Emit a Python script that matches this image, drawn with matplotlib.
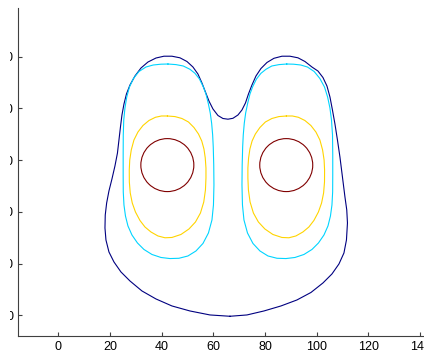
import matplotlib
matplotlib.use("Agg")
import matplotlib.pyplot as plt
from matplotlib.patches import Circle
from matplotlib.transforms import Bbox, IdentityTransform, TransformedBbox

# contour lines (data units)
outer_x = [66.42, 58.68, 50.95, 43.98, 37.80, 32.38, 27.74, 24.26, 21.55, 19.61, 18.45, 18.07, 18.18,
           18.72, 19.61, 20.77, 21.93, 22.90, 23.48, 24.06, 24.64, 25.42, 26.38, 27.74, 29.67, 31.99,
           34.70, 37.80, 40.89, 43.98, 47.08, 49.79, 52.11, 54.04, 55.59, 56.94, 58.30, 59.85, 61.78,
           63.71, 65.65, 67.58, 69.52, 71.06, 72.42, 73.58, 74.93, 76.48, 78.41, 80.74, 83.44, 86.54,
           89.63, 92.73, 95.44, 98.14, 100.46, 102.40, 103.95, 105.11, 106.07, 107.04, 108.01, 108.97,
           109.94, 110.91, 111.61, 111.88, 111.49, 110.52, 108.59, 105.88, 102.40, 97.76, 92.34,
           86.15, 79.57, 73.00, 66.42]
outer_y = [-0.39, 0.12, 1.66, 3.60, 6.31, 9.40, 13.27, 16.75, 20.62, 24.49, 29.13, 33.77, 38.80,
           43.44, 48.09, 52.73, 57.76, 62.77, 67.80, 72.83, 77.47, 81.73, 85.60, 89.08, 92.56, 95.65,
           97.98, 99.53, 100.23, 100.23, 99.61, 98.18, 96.05, 93.34, 89.86, 86.38, 82.89, 79.81, 77.29,
           76.13, 75.86, 76.21, 77.49, 79.42, 82.13, 85.60, 89.08, 92.56, 95.47, 97.80, 99.42, 100.23,
           100.23, 99.61, 98.18, 96.05, 94.50, 91.99, 88.70, 84.45, 79.42, 74.01, 67.80, 61.23,
           53.50, 45.76, 40.74, 35.71, 29.13, 24.10, 19.85, 15.98, 12.50, 8.82, 5.92,
           3.60, 1.66, 0.12, -0.39]

cyan_left_x = [42.44, 45.53, 48.36, 50.95, 52.88, 54.62, 56.09, 57.14, 58.03, 58.80, 59.34, 59.73,
               59.96, 60.15, 60.23, 60.04, 59.46, 58.10, 55.98, 53.27, 50.17, 46.69, 43.21, 39.73,
               36.25, 33.15, 30.64, 28.51, 26.96, 26.00, 25.42, 25.15, 25.11, 25.11, 25.15, 25.34,
               25.80, 26.50, 27.54, 29.09, 31.22, 33.93, 36.75, 39.73, 42.44]
cyan_left_y = [97.21, 96.98, 96.44, 95.17, 93.62, 91.41, 88.43, 85.60, 82.01, 78.26, 74.27, 69.75,
               65.11, 58.14, 50.41, 42.67, 36.87, 31.84, 27.78, 24.87, 22.94, 22.05, 21.94, 22.36,
               23.52, 25.46, 27.97, 31.06, 34.55, 38.41, 42.67, 47.70, 54.27, 62.01, 69.75, 75.55,
               80.19, 84.45, 88.31, 91.61, 94.31, 96.05, 96.83, 97.14, 97.21]
cyan_right_x = [88.40, 85.40, 82.60, 80.35, 78.42, 76.68, 75.21, 74.16, 73.27, 72.50, 71.96, 71.57,
                71.34, 71.15, 71.07, 71.26, 71.84, 73.20, 75.32, 78.03, 81.13, 84.61, 88.09, 91.57,
                95.05, 98.15, 100.66, 102.79, 104.34, 105.30, 105.88, 106.15, 106.19, 106.19, 106.10,
                105.70, 105.10, 104.20, 103.00, 101.20, 99.00, 96.40, 93.80, 91.00, 88.40]
cyan_right_y = cyan_left_y

yellow_left_x = [42.24, 45.15, 47.85, 50.37, 52.49, 54.24, 55.51, 56.36, 56.87, 57.14, 57.14, 56.94,
                 56.29, 55.01, 53.08, 50.56, 47.47, 43.98, 41.28, 38.57, 35.86, 33.54, 31.61, 29.86,
                 28.63, 27.85, 27.50, 27.47, 27.66, 28.24, 29.28, 30.83, 32.77, 35.09, 37.60, 39.92,
                 42.24]
yellow_left_y = [77.10, 76.87, 76.13, 74.78, 72.65, 70.14, 67.43, 64.33, 60.85, 56.98, 53.11, 48.47,
                 43.83, 39.57, 36.09, 33.38, 31.26, 30.10, 29.98, 30.68, 32.22, 34.16, 36.67, 39.96,
                 43.44, 47.31, 51.57, 56.21, 60.08, 63.95, 67.81, 70.91, 73.42, 75.36, 76.60, 77.10,
                 77.10]
yellow_right_x = [88.26, 85.35, 82.65, 80.13, 78.01, 76.26, 74.99, 74.14, 73.63, 73.36, 73.36, 73.56,
                  74.21, 75.49, 77.42, 79.94, 83.03, 86.52, 89.22, 91.93, 94.64, 96.96, 98.89, 100.64,
                  101.87, 102.65, 103.00, 103.03, 102.84, 102.26, 101.22, 99.67, 97.73, 95.41, 92.90,
                  90.58, 88.26]
yellow_right_y = yellow_left_y

# innermost level: two near-round rings
ring_cx = [42.2, 88.2]
ring_cy = [58.1, 58.1]
ring_r = [10.25, 10.25]

xticks = [0, 20, 40, 60, 80, 100, 120, 140]
yticks = [0, 20, 40, 60, 80, 100]

blue = '#000080'
cyan = '#00d4ff'
yellow = '#ffd400'
red = '#800000'

plt.rcParams['font.family'] = ['Liberation Sans', 'DejaVu Sans']

fig = plt.figure(figsize=(4.24, 3.53), dpi=100)
ax = fig.add_axes([0.0429, 0.0476, 0.9785, 0.9306])

lw = 0.8
ax.plot(outer_x, outer_y, color=blue, lw=lw)
ax.plot(cyan_left_x, cyan_left_y, color=cyan, lw=lw)
ax.plot(cyan_right_x, cyan_right_y, color=cyan, lw=lw)
ax.plot(yellow_left_x, yellow_left_y, color=yellow, lw=lw)
ax.plot(yellow_right_x, yellow_right_y, color=yellow, lw=lw)
for cx, cy, r in zip(ring_cx, ring_cy, ring_r):
    ax.add_patch(Circle((cx, cy), r, fill=False, edgecolor=red, lw=lw))

ax.set_xlim(-15.5, 145)
ax.set_ylim(-8.1, 119)
ax.set_xticks(xticks)
ax.set_yticks(yticks)
ax.set_xticklabels([str(t) for t in xticks])
ax.set_yticklabels([str(t) for t in yticks])

ax.spines['top'].set_visible(False)
ax.spines['right'].set_visible(False)
for s in ['left', 'bottom']:
    ax.spines[s].set_color('#404040')
    ax.spines[s].set_linewidth(0.8)
ax.tick_params(direction='in', length=3, width=0.8, color='#404040', labelsize=9, pad=3.5)
ax.tick_params(axis='y', pad=3.6)

# the reference is cut off on the left, only the tail of the y labels shows
clip = TransformedBbox(Bbox.from_extents(10, 0, 424, 353), IdentityTransform())
for lab in ax.yaxis.get_majorticklabels():
    lab.set_clip_box(clip)
    lab.set_clip_on(True)

fig.savefig('out.png', dpi=100)
